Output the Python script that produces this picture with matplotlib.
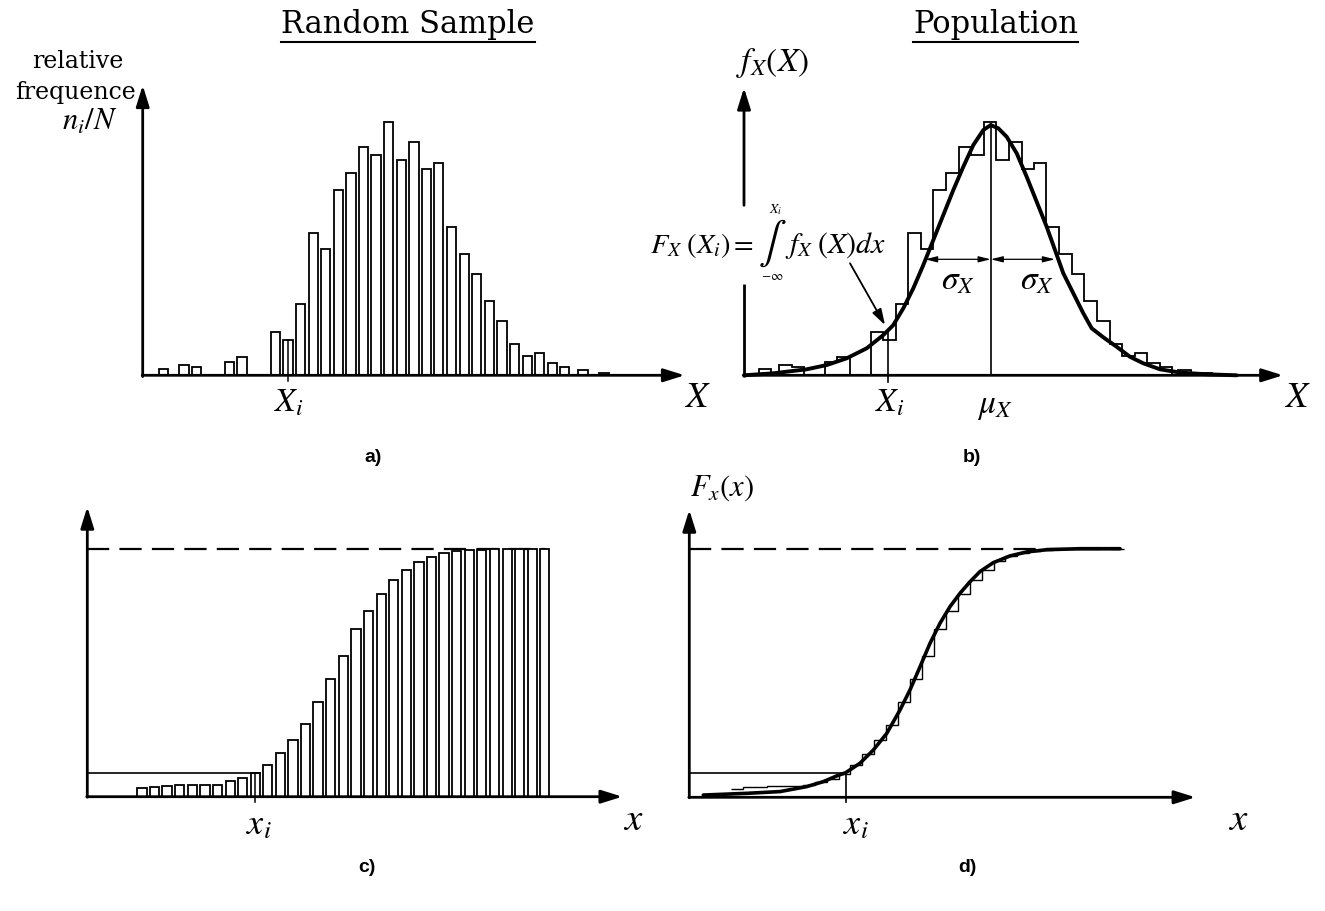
import matplotlib
matplotlib.use("Agg")
import matplotlib.pyplot as plt

plt.rcParams['mathtext.fontset'] = 'stix'
plt.rcParams['font.family'] = 'DejaVu Serif'

W, H = 1325, 911

# --- datos: histograma de la muestra (a, b) ---
bin_centre = [20.8, 41.3, 53.8, 86.8, 99.3, 132.8, 145.3, 157.8, 170.8, 182.8,
              195.8, 208.3, 220.8, 233.3, 245.8, 258.8, 271.3, 283.8, 295.8, 308.8,
              321.8, 333.8, 346.8, 359.3, 371.8, 384.8, 396.8, 409.8, 421.8, 440.3,
              461.3]
freq = [2.4, 4.2, 3.4, 5.2, 7.4, 17.4, 14.1, 28.6, 57.0, 50.5,
        74.1, 80.8, 91.4, 88.2, 101.4, 86.0, 93.3, 82.6, 85.0, 59.4,
        48.6, 40.4, 29.6, 21.7, 12.5, 7.8, 8.8, 4.8, 3.4, 2.1,
        1.0]
bin_w = 12.55

# densidad de la poblacion (b)
pdf_x = [0, 29.3, 62.7, 82.7, 102.7, 122.7, 139.3, 149.3, 159.3, 169.3,
         179.3, 189.3, 199.3, 209.3, 219.3, 229.3, 239.3, 246.7, 254.3, 262.7,
         272.7, 282.7, 292.7, 302.7, 311.0, 319.3, 329.3, 339.3, 347.7, 359.3,
         372.7, 386.0, 399.3, 416.0, 436.0, 462.7, 492.7]
pdf_y = [0, 0.8, 2.4, 4.1, 6.8, 10.8, 16.1, 20.1, 26.8, 34.8,
         44.1, 54.1, 64.1, 74.1, 83.4, 92.1, 98.1, 100.1, 98.8, 95.4,
         88.8, 79.4, 69.4, 59.4, 50.1, 40.8, 32.8, 24.8, 18.8, 15.2,
         11.4, 7.4, 4.8, 2.4, 1.1, 0.4, 0]
x_i_ab = 145.3
mu_x = 246.7
sig_lo, sig_hi, sig_y = 181.0, 311.0, 46.4

# --- datos: frecuencia acumulada (c, d) ---
cum_centre = [54.6, 67.3, 79.7, 92.3, 105.0, 117.7, 130.3, 143.0, 155.3, 168.0,
              180.3, 193.0, 205.7, 218.3, 230.7, 243.3, 256.0, 268.7, 281.3, 294.0,
              306.3, 319.0, 331.7, 344.0, 356.7, 369.3, 382.0, 394.3, 407.3, 420.0,
              432.3, 445.0, 457.3]
cum_freq = [0.034, 0.040, 0.043, 0.046, 0.046, 0.046, 0.048, 0.063, 0.074, 0.094,
            0.128, 0.175, 0.229, 0.292, 0.384, 0.475, 0.568, 0.676, 0.750, 0.817,
            0.874, 0.915, 0.949, 0.969, 0.983, 0.991, 0.996, 0.997, 1.0, 1.0,
            1.0, 1.0, 1.0]
cum_w = 12.58
cdf_x = [14.8, 60.7, 95.9, 124.1, 141.7, 155.8, 165.3, 180.4, 194.5, 208.7,
         222.7, 233.3, 243.9, 254.4, 265.0, 275.6, 286.2, 296.7, 307.3, 321.4,
         339.0, 356.7, 377.8, 413.0, 455.3]
cdf_y = [0.009, 0.016, 0.023, 0.043, 0.063, 0.086, 0.099, 0.137, 0.190, 0.257,
         0.351, 0.432, 0.525, 0.619, 0.700, 0.767, 0.821, 0.867, 0.908, 0.944,
         0.971, 0.987, 0.996, 1.0, 1.0]
x_i_cd = 168.0
F_i = 0.094

fig = plt.figure(figsize=(W / 100, H / 100), dpi=100)


def panel(ox, oy, sx, sy, xlim, ylim):
    # ox, oy: pixel del origen; sx, sy: pixeles por unidad
    left = (ox + xlim[0] * sx) / W
    right = (ox + xlim[1] * sx) / W
    bottom = (H - (oy - ylim[0] * sy)) / H
    top = (H - (oy - ylim[1] * sy)) / H
    ax = fig.add_axes([left, bottom, right - left, top - bottom])
    ax.set_xlim(*xlim)
    ax.set_ylim(*ylim)
    ax.axis('off')
    return ax


def arrow(ax, start, end, lw=2.0, ms=16):
    ax.annotate('', xy=end, xytext=start,
                arrowprops=dict(arrowstyle='-|>,head_length=0.8,head_width=0.25',
                                lw=lw, color='k', mutation_scale=ms,
                                shrinkA=0, shrinkB=0))


def ptext(x, y, s, **kw):
    return fig.text(x / W, 1 - y / H, s, ha=kw.pop('ha', 'center'),
                    va=kw.pop('va', 'center'), **kw)


# Graficar a) muestra aleatoria
ax_a = panel(142.7, 375.3, 1.0, 2.5, (-15, 560), (-15, 125))
ax_a.bar(bin_centre, freq, width=9.5, color='white', edgecolor='k', lw=1.3, zorder=2)
ax_a.plot([x_i_ab, x_i_ab], [-2.2, freq[6]], color='k', lw=1.1, zorder=3)
arrow(ax_a, (-0.5, 0), (542, 0))
arrow(ax_a, (0, -0.5), (0, 116))

# Graficar b) poblacion
ax_b = panel(744.0, 375.3, 1.0, 2.5, (-15, 560), (-15, 125))
edges = [bin_centre[0] - bin_w / 2]
vals = []
for i, c in enumerate(bin_centre):
    lo, hi = c - bin_w / 2, c + bin_w / 2
    if i > 0 and lo - edges[-1] > 2:
        edges.append(lo)
        vals.append(0)
    vals.append(freq[i])
    edges.append(hi)
ax_b.stairs(vals, edges, color='k', lw=1.3, zorder=2)
ax_b.plot(pdf_x, pdf_y, color='k', lw=2.8, solid_joinstyle='round',
          solid_capstyle='round', zorder=4)
ax_b.plot([mu_x, mu_x], [0, 100.5], color='k', lw=1.2, zorder=3)
ax_b.plot([x_i_ab - 1, x_i_ab - 1], [-2.8, 17.4], color='k', lw=1.2, zorder=3)
for a0, a1 in [(sig_lo, mu_x), (mu_x, sig_hi)]:
    ax_b.annotate('', xy=(a1, sig_y), xytext=(a0, sig_y),
                  arrowprops=dict(arrowstyle='<|-|>,head_length=0.8,head_width=0.2',
                                  lw=0.9, color='k', mutation_scale=9,
                                  shrinkA=0, shrinkB=0))
ax_b.annotate('', xy=(141, 20.1), xytext=(106, 44.8),
              arrowprops=dict(arrowstyle='-|>,head_length=0.8,head_width=0.25',
                              lw=1.3, color='k', mutation_scale=12,
                              shrinkA=0, shrinkB=0))
arrow(ax_b, (-0.5, 0), (539, 0))
ax_b.plot([0, 0], [-0.5, 36.5], color='k', lw=2.0, solid_capstyle='butt')
arrow(ax_b, (0, 68), (0, 115))

# Graficar c) frecuencia acumulada
ax_c = panel(87.3, 796.7, 1.0, 247.7, (-15, 560), (-0.1, 1.25))
ax_c.plot([0, cum_centre[-1]], [1, 1], color='k', lw=1.6, ls=(0, (10, 4.6)), zorder=1)
ax_c.bar(cum_centre, cum_freq, width=9.3, color='white', edgecolor='k', lw=1.3, zorder=2)
ax_c.plot([0, x_i_cd + 4.7], [F_i, F_i], color='k', lw=1.2, zorder=3)
ax_c.plot([x_i_cd, x_i_cd], [-0.02, F_i], color='k', lw=1.1, zorder=3)
arrow(ax_c, (-0.5, 0), (535, 0))
arrow(ax_c, (0, -0.002), (0, 1.17))

# Graficar d) funcion de distribucion
ax_d = panel(689.3, 797.3, 0.946, 248.6, (-15, 560), (-0.1, 1.25))
ax_d.plot([0, cdf_x[-1]], [1, 1], color='k', lw=1.6, ls=(0, (10, 4.6)), zorder=1)
st_edges = [c - 0.8 * cum_w for c in cum_centre] + [cum_centre[-1] + 0.2 * cum_w]
ax_d.stairs(cum_freq, st_edges, baseline=None, color='k', lw=1.0, zorder=2)
ax_d.plot(cdf_x, cdf_y, color='k', lw=2.6, solid_joinstyle='round',
          solid_capstyle='round', zorder=4)
ax_d.plot([0, x_i_cd - 2], [0.099, 0.099], color='k', lw=1.2, zorder=3)
ax_d.plot([x_i_cd - 2, x_i_cd - 2], [-0.018, 0.099], color='k', lw=1.2, zorder=3)
arrow(ax_d, (-0.5, 0), (535, 0))
arrow(ax_d, (0, -0.002), (0, 1.156))

# Textos
t1 = ptext(408, 25, 'Random Sample', fontsize=22)
t2 = ptext(996, 25, 'Population', fontsize=22)
ptext(78, 62, 'relative', fontsize=17)
ptext(76, 92, 'frequence', fontsize=17)
ptext(90, 121, r'$n_i/N$', fontsize=22)
ptext(772, 63, r'$f_X(X)$', fontsize=24)
# formula de F_X con limites encima y debajo de la integral
ptext(650, 253, r'$F_X\;(X_i) =$', fontsize=20.5, ha='left', va='baseline')
ptext(772, 243, r'$\int$', fontsize=30)
ptext(776, 210, r'$X_i$', fontsize=10)
ptext(772, 276, r'$-\infty$', fontsize=9.5)
ptext(785, 253, r'$f_X\;(X)dx$', fontsize=21.5, ha='left', va='baseline')
ptext(958, 281, r'$\sigma_X$', fontsize=24)
ptext(1037, 281, r'$\sigma_X$', fontsize=24)
ptext(697, 397, r'$X$', fontsize=26)
ptext(1297, 397, r'$X$', fontsize=26)
ptext(289, 402, r'$X_i$', fontsize=24)
ptext(890, 402, r'$X_i$', fontsize=24)
ptext(995, 406, r'$\mu_X$', fontsize=24)
ptext(722, 488, r'$F_x(x)$', fontsize=22)
ptext(259, 824, r'$x_i$', fontsize=26)
ptext(856, 824, r'$x_i$', fontsize=26)
ptext(633, 820, r'$x$', fontsize=28)
ptext(1238, 820, r'$x$', fontsize=28)
for s, x, y in [('a)', 373, 458), ('b)', 972, 458), ('c)', 367, 868), ('d)', 967, 868)]:
    ptext(x, y, s, fontsize=14, fontweight='bold', family='Liberation Sans')

# subrayado de los titulos
fig.canvas.draw()
inv = fig.transFigure.inverted()
for t in (t1, t2):
    bb = t.get_window_extent().transformed(inv)
    fig.add_artist(plt.Line2D([bb.x0, bb.x1], [bb.y0 - 0.002, bb.y0 - 0.002],
                              transform=fig.transFigure, color='k', lw=1.5))

fig.savefig('out.png', dpi=100, facecolor='white')
